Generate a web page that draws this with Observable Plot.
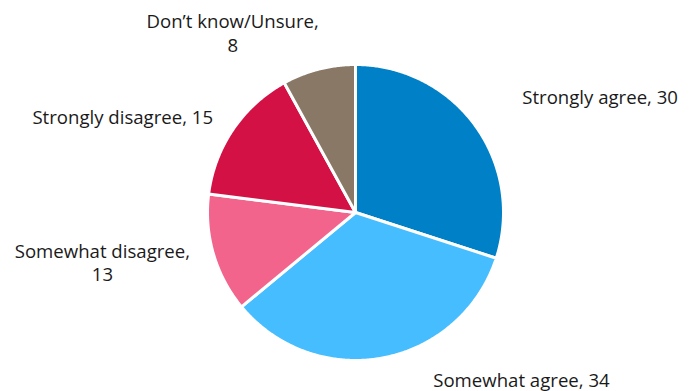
<!DOCTYPE html>
<html>
<head>
<meta charset="utf-8">
<script src="https://cdn.jsdelivr.net/npm/d3@7"></script>
<script src="https://cdn.jsdelivr.net/npm/@observablehq/plot@0.6"></script>
<style>
  html, body { margin: 0; padding: 0; background: #fff; }
  #chart { width: 690px; height: 391px; }
</style>
</head>
<body>
<div id="chart"></div>
<script>
// ---- data ----
const categories = ["Strongly agree", "Somewhat agree", "Somewhat disagree", "Strongly disagree", "Don\u2019t know/Unsure"];
const values = [30, 34, 13, 15, 8];
const labelText = ["Strongly agree, 30", "Somewhat agree, 34", "Somewhat disagree,\n13", "Strongly disagree, 15", "Don\u2019t know/Unsure,\n8"];
const colors = ["#0080C6", "#46BDFF", "#F2648C", "#D31145", "#8A7866"];

// ---- layout (label offsets in px from slice edge midpoint) ----
const labelLayout = [
  {dx: 47, dy: -29, anchor: "start"},
  {dx: 50, dy: 21, anchor: "start"},
  {dx: -111, dy: 8, anchor: "middle"},
  {dx: -20, dy: -13, anchor: "end"},
  {dx: -86, dy: -37, anchor: "middle"}
];

const total = d3.sum(values);
const W = 690, H = 391, cx = 355, cy = 212, R = 148;

// slices as polygons in unit coordinates
const slicePoints = [];
const labelPoints = [];
let acc = 0;
values.forEach((v, i) => {
  const a0 = acc / total * 2 * Math.PI;
  const a1 = (acc + v) / total * 2 * Math.PI;
  acc += v;
  slicePoints.push({cat: categories[i], x: 0, y: 0, k: 0});
  const n = Math.max(2, Math.ceil((a1 - a0) / (Math.PI / 360)));
  for (let j = 0; j <= n; j++) {
    const a = a0 + (a1 - a0) * j / n;
    slicePoints.push({cat: categories[i], x: Math.sin(a), y: Math.cos(a), k: j + 1});
  }
  const am = (a0 + a1) / 2;
  labelPoints.push({cat: categories[i], text: labelText[i], x: Math.sin(am), y: Math.cos(am), i});
});

const marks = [
  Plot.line(slicePoints, {
    x: "x", y: "y", z: "cat", fill: "cat", stroke: "white", strokeWidth: 3,
    curve: "linear-closed", strokeLinejoin: "round"
  })
];
labelPoints.forEach((d, i) => {
  const L = labelLayout[i];
  marks.push(Plot.text([d], {
    x: "x", y: "y", text: "text", dx: L.dx, dy: L.dy, textAnchor: L.anchor,
    fill: "#1a1a1a", fontSize: 18.6, lineHeight: 1.28
  }));
});

const chart = Plot.plot({
  width: W, height: H,
  margin: 0,
  style: {fontFamily: "'Open Sans', 'Noto Sans', sans-serif", background: "white"},
  x: {domain: [-cx / R, (W - cx) / R], range: [0, W], axis: null},
  y: {domain: [(cy - H) / R, cy / R], range: [H, 0], axis: null},
  color: {domain: categories, range: colors},
  marks
});
document.getElementById("chart").appendChild(chart);
</script>
</body>
</html>
